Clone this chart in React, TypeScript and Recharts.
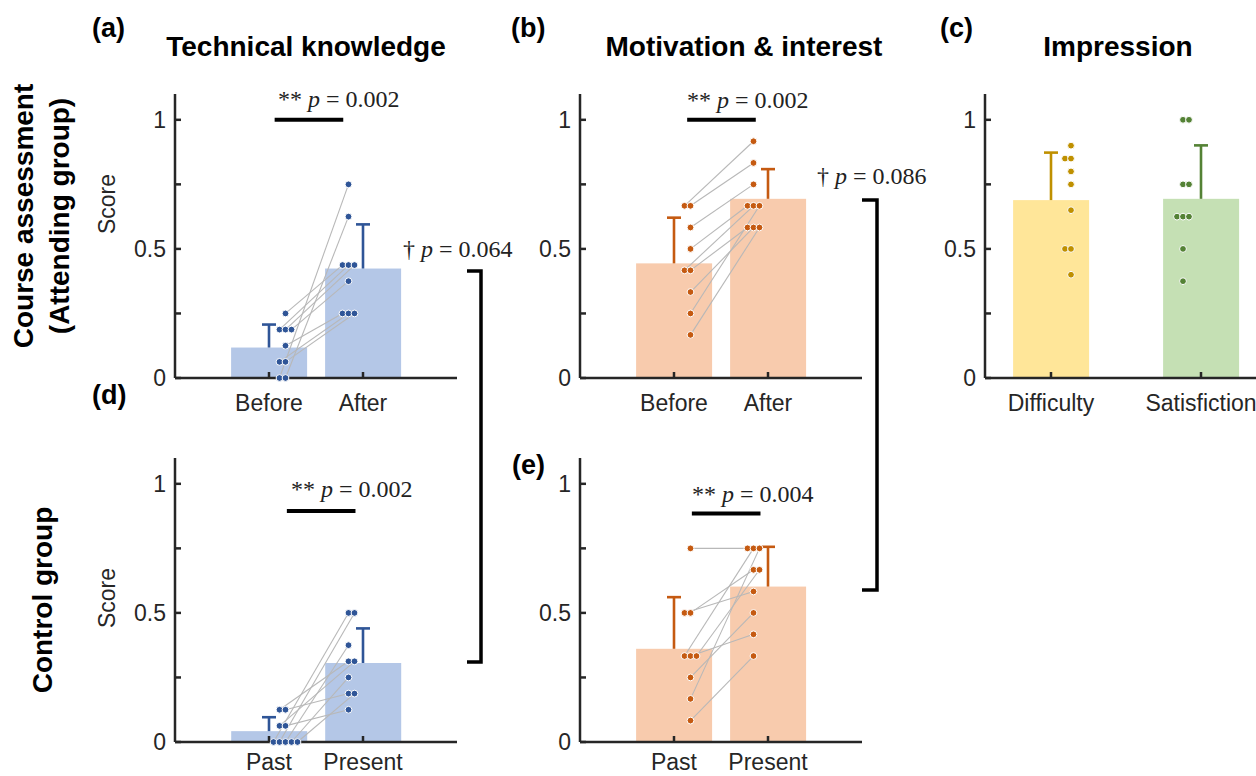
import React from 'react';
import { ComposedChart, Bar, Cell, Line, Scatter, XAxis, YAxis, ReferenceLine } from 'recharts';

const SANS = '"Liberation Sans", Arial, Helvetica, sans-serif';
const SERIF = '"Liberation Serif", "Times New Roman", serif';
const INK = '#262626';

// (a) technical knowledge, attending group - one entry per student, paired by index
const TECH_LABELS = ['Before', 'After'];
const TECH_BEFORE = [0.25, 0.1875, 0.1875, 0.1875, 0.125, 0.0625, 0.0625, 0, 0];
const TECH_AFTER = [0.4375, 0.4375, 0.4375, 0.375, 0.25, 0.25, 0.25, 0.75, 0.625];
const TECH_MEAN = [0.118, 0.424];
const TECH_SD = [0.089, 0.171];

// (b) motivation & interest, attending group
const MOTIV_LABELS = ['Before', 'After'];
const MOTIV_BEFORE = [0.667, 0.667, 0.583, 0.5, 0.417, 0.417, 0.333, 0.25, 0.167];
const MOTIV_AFTER = [0.917, 0.833, 0.75, 0.667, 0.667, 0.583, 0.583, 0.667, 0.583];
const MOTIV_MEAN = [0.444, 0.694];
const MOTIV_SD = [0.177, 0.115];

// (c) impression
const IMPR_LABELS = ['Difficulty', 'Satisfiction'];
const IMPR_DIFFICULTY = [0.9, 0.85, 0.85, 0.8, 0.75, 0.65, 0.5, 0.5, 0.4];
const IMPR_SATISFACTION = [1, 1, 0.75, 0.75, 0.625, 0.625, 0.625, 0.5, 0.375];
const IMPR_MEAN = [0.689, 0.694];
const IMPR_SD = [0.184, 0.207];

// (d) technical knowledge, control group
const CTRL_TECH_LABELS = ['Past', 'Present'];
const CTRL_TECH_PAST = [0.125, 0.125, 0.0625, 0.0625, 0, 0, 0, 0, 0];
const CTRL_TECH_PRESENT = [0.3125, 0.1875, 0.3125, 0.125, 0.5, 0.5, 0.375, 0.25, 0.1875];
const CTRL_TECH_MEAN = [0.042, 0.306];
const CTRL_TECH_SD = [0.054, 0.134];

// (e) motivation & interest, control group
const CTRL_MOTIV_LABELS = ['Past', 'Present'];
const CTRL_MOTIV_PAST = [0.75, 0.5, 0.5, 0.333, 0.333, 0.333, 0.25, 0.167, 0.083];
const CTRL_MOTIV_PRESENT = [0.75, 0.583, 0.667, 0.75, 0.417, 0.667, 0.5, 0.75, 0.333];
const CTRL_MOTIV_MEAN = [0.361, 0.602];
const CTRL_MOTIV_SD = [0.2, 0.154];

const Y_TICKS = [0, 0.25, 0.5, 0.75, 1];

const BLUE = { bar: '#b4c7e7', dot: '#2f5597' };
const ORANGE = { bar: '#f8cbad', dot: '#c55a11' };
const YELLOW = { bar: '#ffe699', dot: '#bf9000' };
const GREEN = { bar: '#c5e0b4', dot: '#548235' };

// layout of one panel
const YW = 70;
const TOP_M = 12;
const PLOT_W = 282;
const PLOT_H = 284;
const XH = 50;
const RIGHT_M = 6;
const DOT_STEP = 6;
const BAR_W = 76;

// horizontal spread for tied values (left group grows leftwards, right group rightwards)
function tieShifts(vals: number[], side: number) {
  const counts: Record<string, number> = {};
  const seen: Record<string, number> = {};
  vals.forEach((v) => (counts[v] = (counts[v] || 0) + 1));
  return vals.map((v) => {
    const n = counts[v];
    const k = seen[v] || 0;
    seen[v] = k + 1;
    const base = side === 0 ? Math.ceil((n - 1) / 2) : Math.floor((n - 1) / 2);
    return k - base;
  });
}

type PanelProps = {
  left: number;
  top: number;
  labels: string[];
  groups: number[][];
  mean: number[];
  sd: number[];
  colors: { bar: string; dot: string }[];
  paired: boolean;
  xDomain: [number, number];
  dotShift: number[];
  sig?: { x1: number; x2: number; y: number };
  labelGap?: number;
};

const Panel: React.FC<PanelProps> = ({
  left,
  top,
  labels,
  groups,
  mean,
  sd,
  colors,
  paired,
  xDomain,
  dotShift,
  sig,
  labelGap = 17,
}) => {
  const pxPerUnit = PLOT_W / (xDomain[1] - xDomain[0]);
  const axisY = TOP_M + PLOT_H;

  const dots = groups.flatMap((vals, side) => {
    const shifts = tieShifts(vals, side);
    return vals.map((v, i) => ({
      x: side + 1 + (dotShift[side] + shifts[i] * DOT_STEP) / pxPerUnit,
      y: v,
      color: colors[side].dot,
    }));
  });
  const n0 = groups[0].length;
  const pairs = paired ? groups[0].map((_, i) => [dots[i], dots[n0 + i]]) : [];
  const bars = mean.map((m, i) => ({ x: i + 1, y: m, fill: colors[i].bar }));

  const yTick = (p: any) => {
    const v = p.payload.value;
    return (
      <g>
        <line x1={YW} x2={YW + 6} y1={p.y} y2={p.y} stroke={INK} strokeWidth={2.5} />
        {v === 0 || v === 0.5 || v === 1 ? (
          <text x={YW - 9} y={p.y} dy="0.36em" textAnchor="end" fontFamily={SANS} fontSize={23} fill={INK}>
            {v}
          </text>
        ) : null}
      </g>
    );
  };

  const xTick = (p: any) => {
    const v = p.payload.value;
    return (
      <g>
        <line x1={p.x} x2={p.x} y1={axisY} y2={axisY - 6} stroke={INK} strokeWidth={2.5} />
        <text x={p.x} y={axisY + labelGap} dy="0.71em" textAnchor="middle" fontFamily={SANS} fontSize={23} fill={INK}>
          {labels[v - 1]}
        </text>
      </g>
    );
  };

  // the numeric x axis makes the band very narrow, so widen each bar round its centre
  const barShape = (p: any) => (
    <rect x={p.x + p.width / 2 - BAR_W / 2} y={p.y} width={BAR_W} height={p.height} fill={p.payload.fill} />
  );

  return (
    <div style={{ position: 'absolute', left: left - YW, top: top - TOP_M }}>
      <ComposedChart
        width={YW + PLOT_W + RIGHT_M}
        height={TOP_M + PLOT_H + XH}
        data={bars}
        margin={{ top: TOP_M, right: RIGHT_M, bottom: 0, left: 0 }}
      >
        <XAxis
          type="number"
          dataKey="x"
          domain={xDomain}
          ticks={[1, 2]}
          interval={0}
          height={XH}
          axisLine={{ stroke: INK, strokeWidth: 2.5 }}
          tickLine={false}
          tick={xTick}
        />
        <YAxis
          type="number"
          dataKey="y"
          domain={[0, 1.1]}
          ticks={Y_TICKS}
          interval={0}
          width={YW}
          axisLine={{ stroke: INK, strokeWidth: 2.5 }}
          tickLine={false}
          tick={yTick}
        />
        <Bar dataKey="y" shape={barShape} isAnimationActive={false}>
          {bars.map((b, i) => (
            <Cell key={i} fill={b.fill} />
          ))}
        </Bar>
        {mean.map((m, i) => (
          <Scatter
            key={'err' + i}
            dataKey="y"
            data={[
              { x: i + 1, y: m, cap: false },
              { x: i + 1, y: m + sd[i], cap: true },
            ]}
            line={{ stroke: colors[i].dot, strokeWidth: 2.6 }}
            shape={(p: any) =>
              p.payload && p.payload.cap ? (
                <line x1={p.cx - 7} x2={p.cx + 7} y1={p.cy} y2={p.cy} stroke={colors[i].dot} strokeWidth={2.6} />
              ) : (
                <g />
              )
            }
            isAnimationActive={false}
          />
        ))}
        {pairs.map((pr, i) => (
          <Line
            key={'pair' + i}
            data={pr}
            dataKey="y"
            stroke="#b8b8b8"
            strokeWidth={1.1}
            dot={false}
            activeDot={false}
            isAnimationActive={false}
          />
        ))}
        <Scatter
          dataKey="y"
          data={dots}
          shape={(p: any) => (
            <circle cx={p.cx} cy={p.cy} r={3.4} fill={p.payload.color} stroke="#ffffff" strokeWidth={1} />
          )}
          isAnimationActive={false}
        />
        {sig ? (
          <ReferenceLine
            segment={[
              { x: sig.x1, y: sig.y },
              { x: sig.x2, y: sig.y },
            ]}
            stroke="#000000"
            strokeWidth={4}
          />
        ) : null}
      </ComposedChart>
    </div>
  );
};

const PValue: React.FC<{ x: number; y: number; mark: string; value: string }> = ({ x, y, mark, value }) => (
  <text x={x} y={y} fontFamily={SERIF} fontSize={24} fill="#222">
    {mark + ' '}
    <tspan fontStyle="italic">p</tspan>
    {' = ' + value}
  </text>
);

export default function App() {
  const bold = { fontFamily: SANS, fontWeight: 700, fill: '#000' } as const;
  return (
    <div style={{ position: 'absolute', left: 0, top: 0, width: 1256, height: 776, overflow: 'hidden', background: '#fff' }}>
      <Panel
        left={175}
        top={94}
        labels={TECH_LABELS}
        groups={[TECH_BEFORE, TECH_AFTER]}
        mean={TECH_MEAN}
        sd={TECH_SD}
        colors={[BLUE, BLUE]}
        paired
        xDomain={[0, 3]}
        dotShift={[16.5, -14.5]}
        sig={{ x1: 1.06, x2: 1.79, y: 1 }}
      />
      <Panel
        left={580}
        top={94}
        labels={MOTIV_LABELS}
        groups={[MOTIV_BEFORE, MOTIV_AFTER]}
        mean={MOTIV_MEAN}
        sd={MOTIV_SD}
        colors={[ORANGE, ORANGE]}
        paired
        xDomain={[0, 3]}
        dotShift={[16.5, -14.5]}
        sig={{ x1: 1.14, x2: 1.87, y: 1 }}
      />
      <Panel
        left={985}
        top={94}
        labels={IMPR_LABELS}
        groups={[IMPR_DIFFICULTY, IMPR_SATISFACTION]}
        mean={IMPR_MEAN}
        sd={IMPR_SD}
        colors={[YELLOW, GREEN]}
        paired={false}
        xDomain={[0.56, 2.44]}
        dotShift={[20, -18]}
      />
      <Panel
        left={175}
        top={458}
        labels={CTRL_TECH_LABELS}
        groups={[CTRL_TECH_PAST, CTRL_TECH_PRESENT]}
        mean={CTRL_TECH_MEAN}
        sd={CTRL_TECH_SD}
        colors={[BLUE, BLUE]}
        paired
        xDomain={[0, 3]}
        dotShift={[16.5, -14.5]}
        sig={{ x1: 1.19, x2: 1.92, y: 0.895 }}
        labelGap={12}
      />
      <Panel
        left={580}
        top={458}
        labels={CTRL_MOTIV_LABELS}
        groups={[CTRL_MOTIV_PAST, CTRL_MOTIV_PRESENT]}
        mean={CTRL_MOTIV_MEAN}
        sd={CTRL_MOTIV_SD}
        colors={[ORANGE, ORANGE]}
        paired
        xDomain={[0, 3]}
        dotShift={[16.5, -14.5]}
        sig={{ x1: 1.19, x2: 1.92, y: 0.885 }}
        labelGap={12}
      />

      <svg width={1256} height={776} style={{ position: 'absolute', left: 0, top: 0, pointerEvents: 'none' }}>
        <text x={92} y={37} fontSize={27} {...bold}>(a)</text>
        <text x={511} y={37} fontSize={27} {...bold}>(b)</text>
        <text x={940} y={37} fontSize={27} {...bold}>(c)</text>
        <text x={92} y={404} fontSize={27} {...bold}>(d)</text>
        <text x={512} y={474} fontSize={27} {...bold}>(e)</text>

        <text x={306} y={56} fontSize={28} textAnchor="middle" {...bold}>Technical knowledge</text>
        <text x={744} y={56} fontSize={28} textAnchor="middle" {...bold}>Motivation &amp; interest</text>
        <text x={1118} y={56} fontSize={28} textAnchor="middle" {...bold}>Impression</text>

        <text transform="translate(23,216) rotate(-90)" dy="0.35em" fontSize={28} textAnchor="middle" {...bold}>
          Course assessment
        </text>
        <text transform="translate(59,216) rotate(-90)" dy="0.35em" fontSize={28} textAnchor="middle" {...bold}>
          (Attending group)
        </text>
        <text transform="translate(42,600) rotate(-90)" dy="0.35em" fontSize={28} textAnchor="middle" {...bold}>
          Control group
        </text>

        <text transform="translate(107,204) rotate(-90)" dy="0.35em" fontSize={23} textAnchor="middle" fontFamily={SANS} fill={INK}>
          Score
        </text>
        <text transform="translate(107,598) rotate(-90)" dy="0.35em" fontSize={23} textAnchor="middle" fontFamily={SANS} fill={INK}>
          Score
        </text>

        <PValue x={278} y={107} mark="**" value="0.002" />
        <PValue x={687} y={108} mark="**" value="0.002" />
        <PValue x={291} y={497} mark="**" value="0.002" />
        <PValue x={692} y={502} mark="**" value="0.004" />
        <PValue x={403} y={257} mark="†" value="0.064" />
        <PValue x={817} y={184} mark="†" value="0.086" />

        <path d="M467 271 H481 V662 H467" fill="none" stroke="#000" strokeWidth={3.5} />
        <path d="M862 200 H877 V590 H862" fill="none" stroke="#000" strokeWidth={3.5} />
      </svg>
    </div>
  );
}
